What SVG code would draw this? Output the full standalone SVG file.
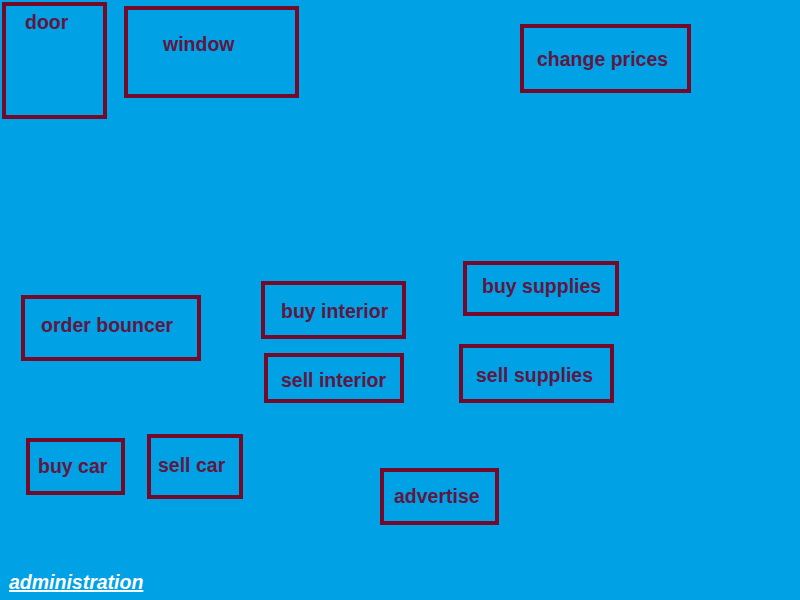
<svg xmlns="http://www.w3.org/2000/svg" width="800" height="600" viewBox="0 0 800 600">
<style>
.box{fill:none;stroke:#740a2a;stroke-width:4}
.lbl{font-family:"Liberation Sans",Arial,sans-serif;font-weight:bold;font-size:19.5px;fill:#5e1842}
.adm{font-family:"Liberation Sans",Arial,sans-serif;font-weight:bold;font-style:italic;font-size:19.5px;fill:#ffffff;text-decoration:underline}
</style>
<rect x="0" y="0" width="800" height="600" fill="#01a1e5"/>
<g id="door"><rect class="box" x="4" y="4" width="101" height="113"/><text class="lbl" x="25" y="29">door</text></g>
<g id="window"><rect class="box" x="126" y="8" width="171" height="88"/><text class="lbl" x="163" y="51">window</text></g>
<g id="change-prices"><rect class="box" x="522" y="26" width="167" height="65"/><text class="lbl" x="537" y="66">change prices</text></g>
<g id="buy-supplies"><rect class="box" x="465" y="263" width="152" height="51"/><text class="lbl" x="482" y="293">buy supplies</text></g>
<g id="sell-supplies"><rect class="box" x="461" y="346" width="151" height="55"/><text class="lbl" x="476" y="382">sell supplies</text></g>
<g id="order-bouncer"><rect class="box" x="23" y="297" width="176" height="62"/><text class="lbl" x="41" y="332">order bouncer</text></g>
<g id="buy-interior"><rect class="box" x="263" y="283" width="141" height="54"/><text class="lbl" x="281" y="318">buy interior</text></g>
<g id="sell-interior"><rect class="box" x="266" y="355" width="136" height="46"/><text class="lbl" x="281" y="387">sell interior</text></g>
<g id="buy-car"><rect class="box" x="28" y="440" width="95" height="53"/><text class="lbl" x="38" y="473">buy car</text></g>
<g id="sell-car"><rect class="box" x="149" y="436" width="92" height="61"/><text class="lbl" x="158" y="472">sell car</text></g>
<g id="advertise"><rect class="box" x="382" y="470" width="115" height="53"/><text class="lbl" x="394" y="503">advertise</text></g>
<g id="connectors"></g>
<text class="adm" x="9" y="589">administration</text>
</svg>
